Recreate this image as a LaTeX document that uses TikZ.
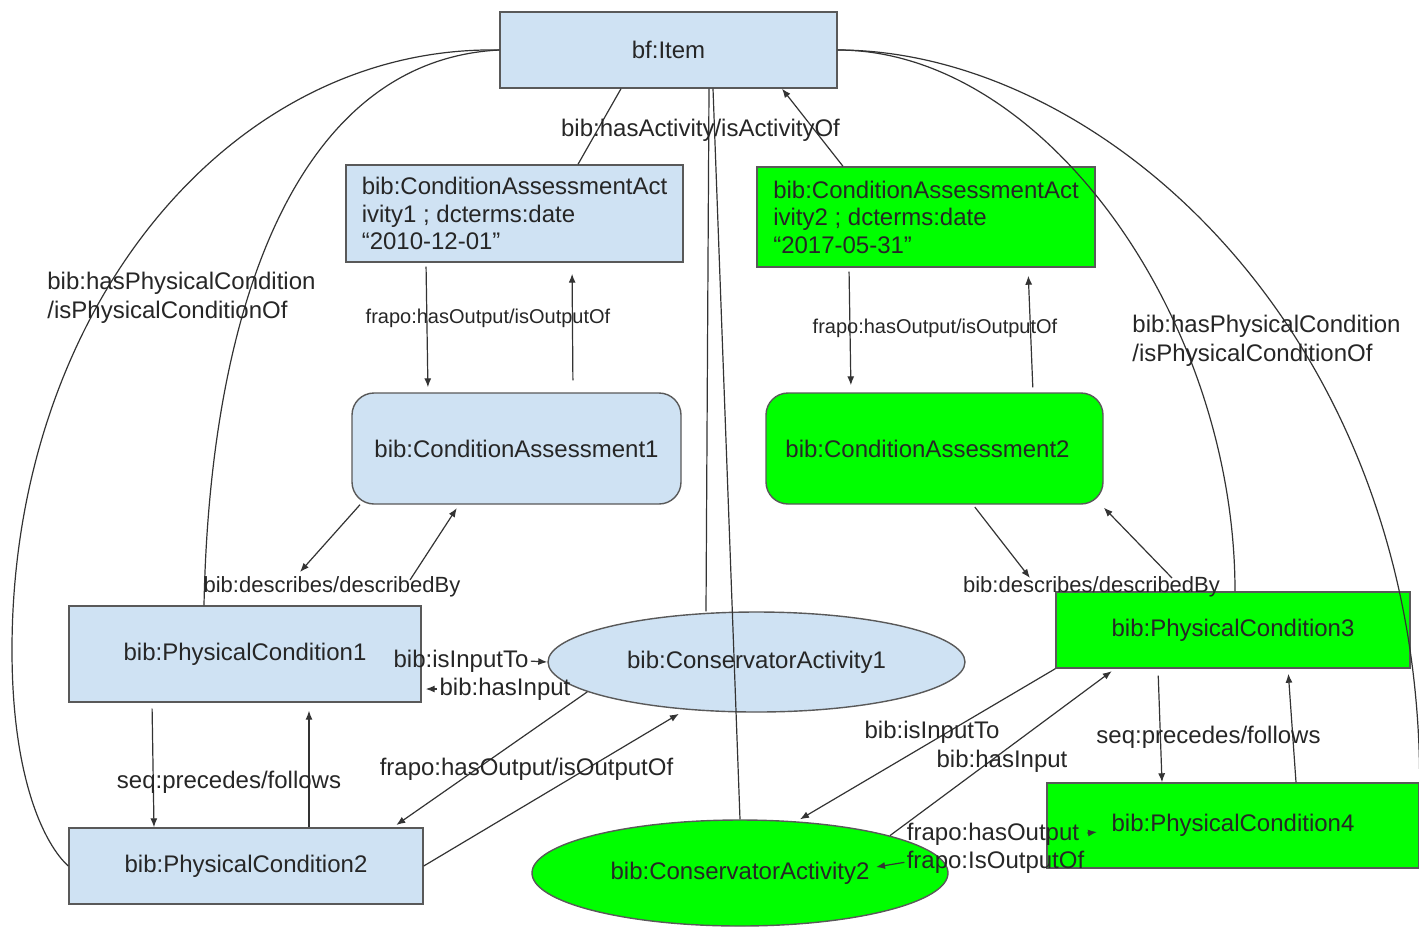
\documentclass[tikz,border=0pt]{standalone}
\usepackage{fontspec}
\setmainfont{Liberation Sans}
\usetikzlibrary{arrows.meta,shapes.geometric}
\definecolor{paleblue}{HTML}{CFE2F3}
\definecolor{brightgreen}{HTML}{00FF00}
\definecolor{edgegray}{HTML}{595959}
\definecolor{inkgray}{HTML}{262626}
\definecolor{linegray}{HTML}{333333}

\begin{document}
\begin{tikzpicture}[x=0.5pt,y=-0.5pt,
  every node/.style={font=\fontsize{12}{13.75}\selectfont, text=inkgray},
  box/.style={draw=edgegray, line width=0.7pt, inner sep=0pt, rectangle},
  roundbox/.style={box, rounded corners=11pt},
  oval/.style={draw=edgegray, line width=0.7pt, ellipse, inner sep=0pt},
  bluefill/.style={fill=paleblue},
  greenfill/.style={fill=brightgreen},
  conn/.style={draw=linegray, line width=0.6pt},
  arr/.style={conn, -{Latex[length=4.5pt,width=3.5pt]}},
  lbl/.style={inner sep=0pt},
  smalllbl/.style={inner sep=0pt, font=\fontsize{10}{12}\selectfont},
  midlbl/.style={inner sep=0pt, font=\fontsize{11}{13}\selectfont},
]
\useasboundingbox (0,0) rectangle (1419,928);

% ---- nodes ----
\node[box,bluefill,minimum width=168.5pt,minimum height=38pt] (bfitem) at (668.5,50) {bf:Item};
\node[box,bluefill,minimum width=168.5pt,minimum height=48.5pt,align=left] (caa1) at (514.5,213.5)
  {bib:ConditionAssessmentAct\\ivity1 ; dcterms:date\\“2010-12-01”};
\node[box,greenfill,minimum width=169pt,minimum height=50pt,align=left] (caa2) at (926,217)
  {bib:ConditionAssessmentAct\\ivity2 ; dcterms:date\\“2017-05-31”};
\node[roundbox,bluefill,minimum width=164.5pt,minimum height=55.5pt] (ca1) at (516.5,448.5) {bib:ConditionAssessment1};
\node[roundbox,greenfill,minimum width=168.5pt,minimum height=55.5pt] (ca2) at (934.5,448.5) {bib:ConditionAssessment2\hspace*{7pt}};
\node[box,bluefill,minimum width=176pt,minimum height=48pt] (pc1) at (245,654) {bib:PhysicalCondition1};
\node[box,bluefill,minimum width=177pt,minimum height=38pt] (pc2) at (246,866) {bib:PhysicalCondition2};
\node[oval,bluefill,minimum width=208.5pt,minimum height=50pt] (cons1) at (756.5,662) {bib:ConservatorActivity1};
\node[oval,greenfill,minimum width=208pt,minimum height=53pt] (cons2) at (740,873) {bib:ConservatorActivity2};
\node[box,greenfill,minimum width=177pt,minimum height=38pt] (pc3) at (1233,630) {bib:PhysicalCondition3};
\node[box,greenfill,minimum width=186pt,minimum height=42.5pt] (pc4) at (1233,825.5) {bib:PhysicalCondition4};

% ---- free ends of short connectors ----
\coordinate (dA) at (300,572);
\coordinate (dB) at (410,580);
\coordinate (dC) at (1030,578);
\coordinate (dD) at (1172,578);
\coordinate (oTip) at (1097,832);
\coordinate (oTipB) at (876,867);

% ---- bf:Item links ----
\draw[conn] (bfitem.south-|621,0) -- (caa1.north-|578,0);
\draw[arr] (caa2.north-|843,0) -- (bfitem.south-|782,0);
\draw[conn] (bfitem.south-|709,0) -- (cons1.north-|706,0);
\draw[conn] (bfitem.south-|713,0) -- (cons2.north);
\draw[conn] (bfitem.west) .. controls (230,45) and (12,310) .. (12,650)
  .. controls (12,780) and (45,845) .. (pc2.west);
\draw[conn] (bfitem.west) .. controls (300,60) and (210,300) .. (pc1.north-|204,0);
\draw[conn] (bfitem.east) .. controls (1045,50) and (1235,320) .. (pc3.north-|1235,0);
\draw[conn] (bfitem.east) .. controls (1100,50) and (1419,330) .. (pc4.north east);

% ---- assessment activity / assessment ----
\draw[arr,shorten <=2pt,shorten >=2.5pt] (caa1.south-|426,0) -- (ca1.north-|428,0);
\draw[arr,shorten <=6pt,shorten >=5.5pt] (ca1.north-|573,0) -- (caa1.south-|572,0);
\draw[arr,shorten <=2pt,shorten >=3.5pt] (caa2.south-|849,0) -- (ca2.north-|851,0);
\draw[arr,shorten <=2.5pt,shorten >=4pt] (ca2.north-|1033,0) -- (caa2.south-|1028,0);

% ---- describes / describedBy ----
\draw[arr] (ca1.south-|360,0) -- (dA);
\draw[arr,shorten >=2pt] (dB) -- (ca1.south-|459,0);
\draw[arr,shorten <=1.5pt] (ca2.south-|973,0) -- (dC);
\draw[arr,shorten >=2pt] (dD) -- (ca2.south-|1101,0);

% ---- precedes / follows ----
\draw[arr,shorten <=3pt] (pc1.south-|152,0) -- (pc2.north-|154,0);
\draw[arr,shorten >=4pt] (pc2.north-|309,0) -- (pc1.south-|309,0);
\draw[arr,shorten <=3.5pt] (pc3.south-|1158,0) -- (pc4.north-|1162,0);
\draw[arr,shorten >=2.5pt] (pc4.north-|1296,0) -- (pc3.south-|1288,0);

% ---- conservator activity 1 ----
\draw[arr,shorten >=2pt] (cons1.190) -- (pc2.north-|393,0);
\draw[arr,shorten >=4pt] (pc2.east) -- (cons1.214);

% ---- conservator activity 2 ----
\draw[arr] (pc3.south west) -- (cons2.north-|800,0);
\draw[arr,shorten >=2pt] (cons2.14) -- (pc3.south-|1115,0);

% ---- labels ----
\node[lbl] (actLbl) at (700.5,130) {bib:hasActivity/isActivityOf};
\node[smalllbl] (outLblA) at (488,318) {frapo:hasOutput/isOutputOf};
\node[smalllbl] (outLblB) at (935,328) {frapo:hasOutput/isOutputOf};
\node[midlbl] (descLblA) at (332,587) {bib:describes/describedBy};
\node[midlbl] (descLblB) at (1091.5,587) {bib:describes/describedBy};
\node[lbl] (seqLblA) at (229,782) {seq:precedes/follows};
\node[lbl] (seqLblB) at (1208.5,737) {seq:precedes/follows};
\node[lbl] (outLblC) at (526.5,769) {frapo:hasOutput/isOutputOf};
\node[lbl,align=left,anchor=west,font=\fontsize{12}{14.5}\selectfont] (physLblA) at (47,297.5)
  {bib:hasPhysicalCondition\\/isPhysicalConditionOf};
\node[lbl,align=left,anchor=west,font=\fontsize{12}{14.5}\selectfont] (physLblB) at (1132,341)
  {bib:hasPhysicalCondition\\/isPhysicalConditionOf};

\node[lbl] (inToA) at (461,661) {bib:isInputTo};
\node[lbl] (hasInA) at (505,689) {bib:hasInput};
\draw[arr,shorten <=1pt] (inToA.east) -- (cons1.west);
\draw[arr,shorten <=1pt,shorten >=2pt] (hasInA.west) -- (pc1.east|-hasInA.west);

\node[lbl] (inToB) at (932,732) {bib:isInputTo};
\node[lbl] (hasInB) at (1002,761) {bib:hasInput};

\node[lbl] (hasOutB) at (993,834) {frapo:hasOutput};
\node[lbl] (isOutB) at (995.5,862) {frapo:IsOutputOf};
\draw[arr,shorten <=4pt] (hasOutB.east) -- (oTip);
\draw[arr,shorten <=1pt] (isOutB.west) -- (oTipB);
\end{tikzpicture}
\end{document}
